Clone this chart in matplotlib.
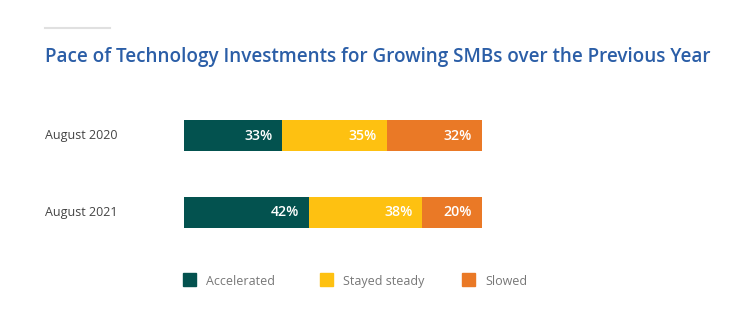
import matplotlib
matplotlib.use("Agg")
import matplotlib.pyplot as plt
from matplotlib.patches import Rectangle
from matplotlib.lines import Line2D

plt.rcParams['font.family'] = ['Open Sans', 'DejaVu Sans']

title = "Pace of Technology Investments for Growing SMBs over the Previous Year"
periods = ["August 2020", "August 2021"]
series = ["Accelerated", "Stayed steady", "Slowed"]
accelerated = [33, 42]
stayed_steady = [35, 38]
slowed = [32, 20]
colors = ["#03524F", "#FEC111", "#EA7926"]

W, H = 745, 322
fig = plt.figure(figsize=(W / 100, H / 100), dpi=100)
fig.patch.set_facecolor("white")

def fx(px):
    return px / W

def fy(py):
    return 1 - py / H

# short grey rule above the title
fig.add_artist(Line2D([fx(45), fx(110)], [fy(28), fy(28)], color="#E0E0E0", lw=1.5))
fig.text(fx(45), fy(57), title, fontsize=13.55, color="#2B5EA7",
         va="center", ha="left", fontweight="semibold")

ax = fig.add_axes([fx(184), fy(251), fx(482) - fx(184), (251 - 97) / H])
ax.set_xlim(0, 100)
ax.set_ylim(1.5, -0.5)
ax.axis("off")

values = [accelerated, stayed_steady, slowed]
y = list(range(len(periods)))
left = [0] * len(periods)
for vals, col in zip(values, colors):
    ax.barh(y, vals, left=left, height=31 / 77, color=col, edgecolor="none")
    for i, v in enumerate(vals):
        ax.text(left[i] + v - 3.3, y[i], f"{v}%", ha="right", va="center",
                color="white", fontsize=10.2, fontweight="semibold")
    left = [l + v for l, v in zip(left, vals)]

for i, p in enumerate(periods):
    fig.text(fx(45), fy(135.5 + 77 * i), p, ha="left", va="center",
             fontsize=9, color="#444444")

# legend
legend_x = [183, 320, 462]
for lx, name, col in zip(legend_x, series, colors):
    fig.add_artist(Rectangle((fx(lx), fy(286)), fx(13), 13 / H, color=col,
                             transform=fig.transFigure))
    fig.text(fx(lx + 23), fy(281.5), name, ha="left", va="center",
             fontsize=9, color="#777777")

fig.savefig("out.png", dpi=100, facecolor="white")
